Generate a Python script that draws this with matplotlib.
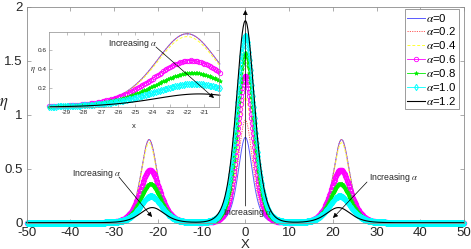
import numpy as np
import matplotlib
matplotlib.use("Agg")
import matplotlib.pyplot as plt
from matplotlib.patches import FancyArrowPatch

plt.rcParams['font.family'] = ['Liberation Sans', 'DejaVu Sans']
plt.rcParams['mathtext.fontset'] = 'stix'
plt.rcParams['axes.unicode_minus'] = False

# ---- data ----
alphas = [0, 0.2, 0.4, 0.6, 0.8, 1.0, 1.2]
labels = ['0', '0.2', '0.4', '0.6', '0.8', '1.0', '1.2']
center_peak = [0.79, 0.95, 1.16, 1.36, 1.57, 1.73, 1.87]   # eta at x=0
center_k = [0.46, 0.45, 0.44, 0.43, 0.40, 0.38, 0.36]      # inverse width of central hump
side_peak = [0.77, 0.77, 0.74, 0.49, 0.36, 0.245, 0.14]    # eta at side humps
side_pos = [22.0, 22.0, 22.0, 21.8, 21.7, 21.6, 21.3]      # |x| of side humps
side_k = [0.40, 0.40, 0.40, 0.33, 0.32, 0.30, 0.27]        # inverse width of side humps
main_xticks = [-50, -40, -30, -20, -10, 0, 10, 20, 30, 40, 50]
main_yticks = [0, 0.5, 1, 1.5, 2]
inset_xticks = [-29, -28, -27, -26, -25, -24, -23, -22, -21]
inset_yticks = [0.2, 0.4, 0.6]

x = np.linspace(-50, 50, 1001)

def profile(i):
    c = center_peak[i] / np.cosh(center_k[i] * x) ** 2
    s = side_peak[i] * (1 / np.cosh(side_k[i] * (x - side_pos[i])) ** 2
                        + 1 / np.cosh(side_k[i] * (x + side_pos[i])) ** 2)
    return c + s

styles = [
    dict(color='#5a5aff', lw=0.7, ls='-'),
    dict(color='#ff5a5a', lw=0.7, ls=(0, (1.2, 1.2))),
    dict(color='#ffff33', lw=0.7, ls=(0, (3, 2))),
    dict(color='#ff00ff', lw=0.6, ls='-', marker='o', ms=3.2, mfc='none', mew=0.6),
    dict(color='#00ee00', lw=0.6, ls='-', marker='*', ms=3.0, mew=0.5),
    dict(color='#00ffff', lw=0.6, ls='-', marker='d', ms=3.2, mfc='none', mew=0.7),
    dict(color='k', lw=0.8, ls='-'),
]

W, H = 471, 249
fig = plt.figure(figsize=(W / 100, H / 100), dpi=100)

def fr(px, py):
    return (px / W, 1 - py / H)

frame_col = '#8c8c8c'
text_col = '#262626'

ax = fig.add_axes([26.7 / W, (H - 222.7) / H, (464 - 26.7) / W, 216 / H])
for i in range(len(alphas)):
    ax.plot(x, profile(i), label=r'$\alpha$=' + labels[i], clip_on=False, **styles[i])
ax.set_xlim(-50, 50)
ax.set_ylim(0, 2)
ax.set_xticks(main_xticks)
ax.set_yticks(main_yticks)
ax.set_yticklabels(['0', '0.5', '1', '1.5', '2'])
ax.tick_params(direction='in', top=True, right=True, length=3, width=0.5,
               labelsize=9.5, pad=3, colors=frame_col, labelcolor=text_col)
for sp in ax.spines.values():
    sp.set_color(frame_col)
    sp.set_linewidth(0.6)
ax.set_xlabel('X', fontsize=9.5, color=text_col, va='center')
ax.xaxis.set_label_coords(0.5, -(244.5 - 222.7) / 216)
ax.set_ylabel(r'$\eta$', fontsize=12, rotation=0, color=text_col, va='center', ha='center')
ax.yaxis.set_label_coords(-0.052, 0.55)

leg = ax.legend(loc='upper right', bbox_to_anchor=fr(459, 9.3), bbox_transform=fig.transFigure,
                borderaxespad=0, fontsize=8.2, handlelength=1.6, handletextpad=0.1,
                labelspacing=0.16, borderpad=0.2, fancybox=False, framealpha=1,
                edgecolor=frame_col, numpoints=1)
leg.get_frame().set_linewidth(0.6)

# inset
axi = fig.add_axes([49.3 / W, (H - 107.3) / H, (219 - 49.3) / W, (107.3 - 32.3) / H])
xl = (-30, -20.15)
m = (x >= xl[0] - 0.05) & (x <= xl[1] + 0.05)
for i in range(len(alphas)):
    axi.plot(x[m], profile(i)[m], clip_on=False, **styles[i])
axi.set_xlim(*xl)
axi.set_ylim(0, 0.785)
axi.set_xticks(inset_xticks)
axi.set_yticks(inset_yticks)
axi.tick_params(direction='in', top=True, right=True, length=2, width=0.4,
                labelsize=4.6, pad=2, colors=frame_col, labelcolor=text_col)
for sp in axi.spines.values():
    sp.set_color(frame_col)
    sp.set_linewidth(0.5)
axi.set_xlabel('x', fontsize=5.5, color=text_col, labelpad=1)
axi.set_ylabel(r'$\eta$', fontsize=6, rotation=0, color=text_col, va='center', ha='center', labelpad=1)
axi.yaxis.set_label_coords((33 - 49.3) / (219 - 49.3), 0.5)
axi.xaxis.set_label_coords((134 - 49.3) / (219 - 49.3), -(123 - 107.3) / 75)

# annotations (figure coordinates)
def arrow(p0, p1):
    a = FancyArrowPatch(fr(*p0), fr(*p1), transform=fig.transFigure, arrowstyle='-|>',
                        mutation_scale=7, lw=0.5, color='k', shrinkA=0, shrinkB=0, zorder=5)
    fig.add_artist(a)

fs_ann = 6.3
fig.text(*fr(108, 43), r'Increasing $\alpha$', fontsize=fs_ann, color=text_col, ha='left', va='center', zorder=6)
arrow((156, 47), (214, 98))
fig.text(*fr(72, 173), r'Increasing $\alpha$', fontsize=fs_ann, color=text_col, ha='left', va='center', zorder=6)
arrow((119, 177), (152, 217))
fig.text(*fr(369, 177), r'Increasing $\alpha$', fontsize=fs_ann, color=text_col, ha='left', va='center', zorder=6)
arrow((367, 182), (333, 218))
fig.text(*fr(248, 212), r'Increasing $\alpha$', fontsize=fs_ann, color=text_col, ha='center', va='center', zorder=6)
arrow((245.35, 206), (245.35, 10))

fig.savefig('out.png', dpi=100)
